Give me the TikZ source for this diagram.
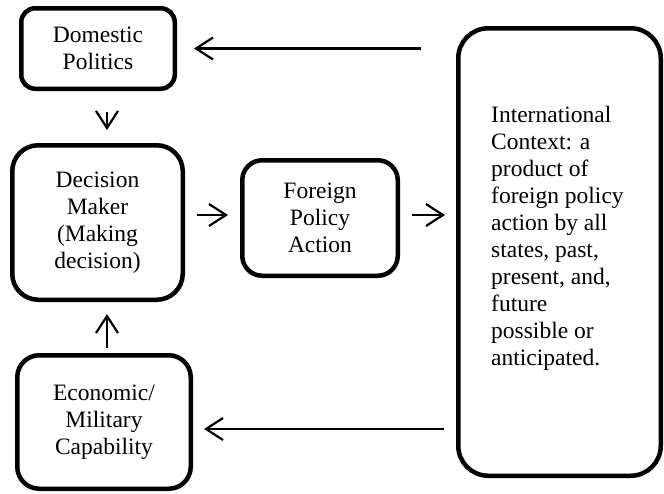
\documentclass[tikz,border=0pt]{standalone}
\usepackage{fontspec}
\setmainfont{Liberation Serif}
\usepackage{tikz}
\usetikzlibrary{calc,shapes,positioning}
\usetikzlibrary{arrows.meta}
\tikzset{>={Straight Barb[width=22pt,length=17pt,line width=2.2pt]}}

\begin{document}
\begin{tikzpicture}[x=1pt,y=-1pt]
          \tikzstyle{bnode} = [draw, line width=4.5pt, rounded corners=14pt, inner sep=0pt, align=center, font=\fontsize{23.5}{27}\selectfont]
          \tikzstyle{tnode} = [inner sep=0pt, align=left, font=\fontsize{23.5}{27}\selectfont]
          \tikzstyle{link} = [->, line width=2.2pt]
          \useasboundingbox (0,0) rectangle (664,493);

            \node[bnode, minimum width=153.5pt, minimum height=80.5pt] (dom) at (98, 48.5) {Domestic\\Politics};
            \node[bnode, rounded corners=26pt, minimum width=170.5pt, minimum height=154.5pt] (dm) at (97.5, 222.5) {Decision\\Maker\\(Making\\decision)};
            \node[bnode, rounded corners=20pt, minimum width=155.5pt, minimum height=115.5pt] (fpa) at (320, 218) {Foreign\\Policy\\Action};
            \node[bnode, rounded corners=22pt, minimum width=173.5pt, minimum height=133.5pt] (econ) at (104, 422) {Economic/\\Military\\Capability};
            \node[bnode, rounded corners=30pt, minimum width=202.5pt, minimum height=447.5pt] (intl) at (559.5, 252) {};
            \node[tnode, anchor=north west] (intltext) at (491, 106) {International\\Context: a\\product of\\foreign policy\\action by all\\states, past,\\present, and,\\future\\possible or\\anticipated.};

            \draw[link, shorten <=35pt, shorten >=17pt] (intl.west |- dom.east) to (dom.east);
            \draw[link, shorten <=21pt, shorten >=13pt] ([xshift=9pt]dom.south) to ([xshift=9pt]dom.south |- dm.north);
            \draw[link, shorten <=12pt, shorten >=12pt] ([yshift=3pt]dm.east |- fpa.west) to ([yshift=3pt]fpa.west);
            \draw[link, shorten <=12pt, shorten >=11pt] ([yshift=3pt]fpa.east) to ([yshift=3pt]fpa.east -| intl.west);
            \draw[link, shorten <=5pt, shorten >=12pt] ([xshift=3pt]econ.north) to ([xshift=3pt]econ.north |- dm.south);
            \draw[link, shorten <=12pt, shorten >=11pt] ([yshift=-7pt]econ.east -| intl.west) to ([yshift=-7pt]econ.east);

            % \draw[link] (dm) to (intl);
\end{tikzpicture}
\end{document}
